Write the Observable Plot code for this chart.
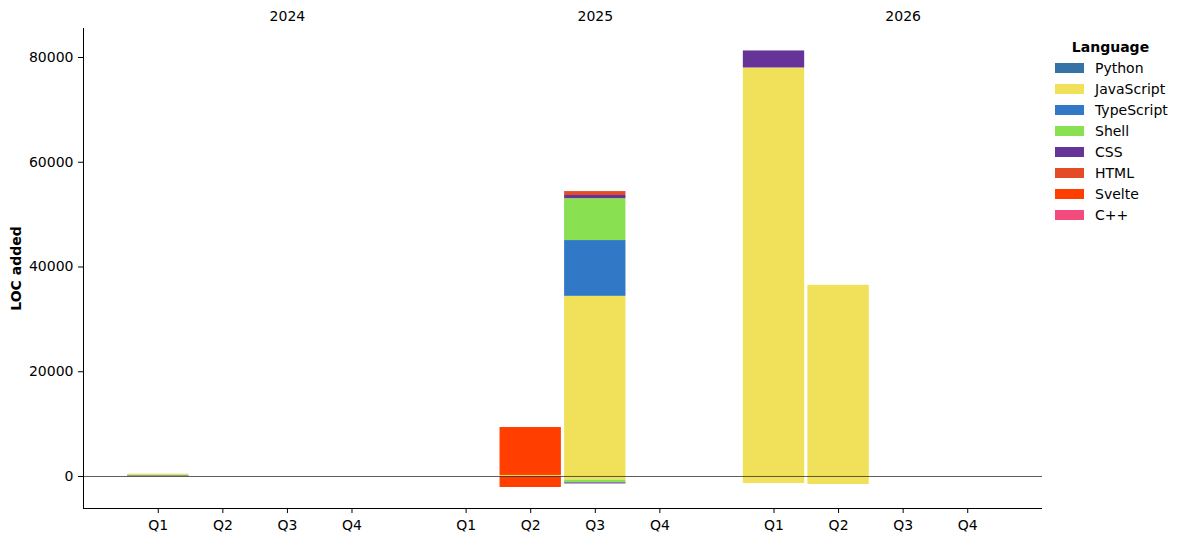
<!DOCTYPE html>
<html>
<head>
<meta charset="utf-8">
<script src="https://cdn.jsdelivr.net/npm/d3@7"></script>
<script src="https://cdn.jsdelivr.net/npm/@observablehq/plot@0.6"></script>
<style>
  body { margin: 0; background: #fff; }
  #wrap { position: relative; width: 1182px; height: 542px; font-family: "DejaVu Sans", sans-serif; }
  #legend { position: absolute; left: 1055px; top: 39px; font-size: 14px; color: #000; }
  #legend .title { font-weight: bold; width: 111px; text-align: center; line-height: 17px; margin-bottom: 1px; }
  #legend .row { display: flex; align-items: center; height: 21px; }
  #legend .sw { width: 29px; height: 10px; margin-right: 11px; }
</style>
</head>
<body>
<div id="wrap"><div id="chart"></div><div id="legend"></div></div>
<script>
const years = ["2024", "2025", "2026"];
const quarters = ["Q1", "Q2", "Q3", "Q4"];
const languages = ["Python", "JavaScript", "TypeScript", "Shell", "CSS", "HTML", "Svelte", "C++"];
const colors = ["#3572A5", "#f1e05a", "#3178c6", "#89e051", "#663399", "#e34c26", "#ff3e00", "#f34b7d"];
const yTicks = [0, 20000, 40000, 60000, 80000];
const yLabel = "LOC added";
const legendTitle = "Language";

// periods: 2024 Q1..Q4, 2025 Q1..Q4, 2026 Q1..Q4
const addedPython     = [150, 0, 0, 0,   0, 0, 0, 0,       0, 0, 0, 0];
const addedJavaScript = [300, 0, 0, 0,   0, 200, 34400, 0, 78000, 36500, 0, 0];
const addedTypeScript = [0, 0, 0, 0,     0, 0, 10650, 0,   0, 0, 0, 0];
const addedShell      = [0, 0, 0, 0,     0, 0, 8000, 0,    0, 0, 0, 0];
const addedCSS        = [0, 0, 0, 0,     0, 0, 600, 0,     3250, 0, 0, 0];
const addedHTML       = [0, 0, 0, 0,     0, 0, 750, 0,     0, 0, 0, 0];
const addedSvelte     = [0, 0, 0, 0,     0, 9150, 0, 0,    0, 0, 0, 0];
const addedCpp        = [0, 0, 0, 0,     0, 0, 0, 0,       0, 0, 0, 0];

const removedPython     = [0, 0, 0, 0,   0, 0, 0, 0,       0, 0, 0, 0];
const removedJavaScript = [0, 0, 0, 0,   0, 0, -700, 0,    -1340, -1530, 0, 0];
const removedTypeScript = [0, 0, 0, 0,   0, 0, 0, 0,       0, 0, 0, 0];
const removedShell      = [0, 0, 0, 0,   0, 0, -520, 0,    0, 0, 0, 0];
const removedCSS        = [0, 0, 0, 0,   0, 0, -200, 0,    0, 0, 0, 0];
const removedHTML       = [0, 0, 0, 0,   0, 0, 0, 0,       0, 0, 0, 0];
const removedSvelte     = [0, 0, 0, 0,   0, -2100, 0, 0,   0, 0, 0, 0];
const removedCpp        = [0, 0, 0, 0,   0, 0, 0, 0,       0, 0, 0, 0];

const added = [addedPython, addedJavaScript, addedTypeScript, addedShell, addedCSS, addedHTML, addedSvelte, addedCpp];
const removed = [removedPython, removedJavaScript, removedTypeScript, removedShell, removedCSS, removedHTML, removedSvelte, removedCpp];

const rows = [];
years.forEach((year, yi) => {
  quarters.forEach((quarter, qi) => {
    const p = yi * 4 + qi;
    for (const series of [added, removed]) {
      languages.forEach((language, li) => {
        const v = series[li][p];
        if (v !== 0) rows.push({year, quarter, language, value: v});
      });
    }
  });
});

const W = 1182, H = 542, mL = 83, mR = 140, mT = 28, mB = 34;
const fxPadInner = 0.161, fxPadOuter = 0.138;
const fxStep = (W - mL - mR) / (years.length - fxPadInner + 2 * fxPadOuter);
const outerGap = fxStep * fxPadOuter;
const spanRight = (W - mL - mR) - outerGap - fxStep * (1 - fxPadInner);

const yDomain = [-6110, 85537];

const chart = Plot.plot({
  width: W,
  height: H,
  marginLeft: mL,
  marginRight: mR,
  marginTop: mT,
  marginBottom: mB,
  style: {fontFamily: "DejaVu Sans, sans-serif", fontSize: "14px", color: "#000", background: "#fff", overflow: "visible"},
  fx: {domain: years, paddingInner: fxPadInner, paddingOuter: fxPadOuter, round: false, axis: null, label: null},
  x: {domain: quarters, paddingInner: 0.05, paddingOuter: 0.025, round: false, label: null},
  y: {domain: yDomain, label: null},
  color: {domain: languages, range: colors},
  marks: [
    Plot.barY(rows, {fx: "year", x: "quarter", y: "value", fill: "language"}),
    Plot.ruleY([0], {facetAnchor: "left", stroke: "#333", strokeWidth: 0.8, insetLeft: -outerGap, insetRight: -spanRight}),
    Plot.ruleY([yDomain[0]], {facetAnchor: "left", stroke: "#000", strokeWidth: 1, insetLeft: -outerGap, insetRight: -spanRight}),
    Plot.frame({anchor: "left", facetAnchor: "left", stroke: "#000", strokeWidth: 1, dx: -outerGap}),
    Plot.axisY({ticks: yTicks, tickFormat: d3.format("d"), tickSize: 5, tickPadding: 5, label: null, dx: -outerGap}),
    Plot.axisX({tickSize: 5, tickPadding: 7, label: null}),
    Plot.text(years, {fx: d => d, x: () => "Q3", text: d => d, frameAnchor: "top", lineAnchor: "middle", dy: -12}),
    Plot.text([yLabel], {facetAnchor: "left", frameAnchor: "left", textAnchor: "middle", lineAnchor: "middle", rotate: -90, dx: -67 - outerGap, fontWeight: "bold", text: d => d})
  ]
});
document.getElementById("chart").appendChild(chart);

const legend = document.getElementById("legend");
const t = document.createElement("div");
t.className = "title";
t.textContent = legendTitle;
legend.appendChild(t);
languages.forEach((lang, i) => {
  const row = document.createElement("div");
  row.className = "row";
  const sw = document.createElement("div");
  sw.className = "sw";
  sw.style.background = colors[i];
  const lab = document.createElement("span");
  lab.textContent = lang;
  row.appendChild(sw);
  row.appendChild(lab);
  legend.appendChild(row);
});
</script>
</body>
</html>
